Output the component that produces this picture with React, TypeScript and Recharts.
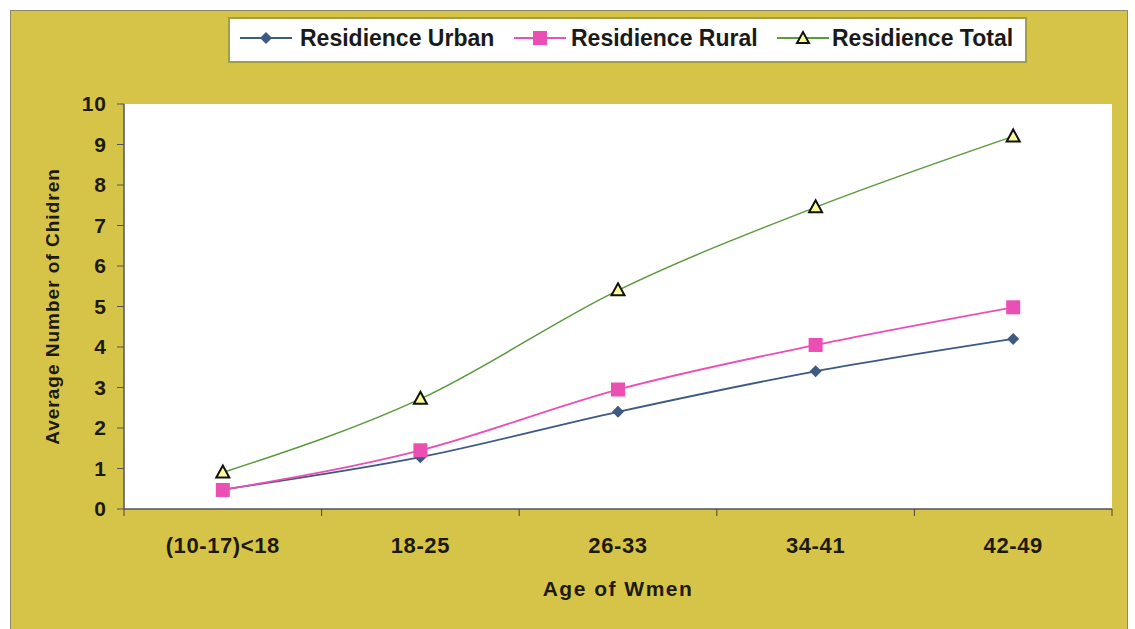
import React from 'react';
import { LineChart, Line, XAxis, YAxis, CartesianGrid, Label } from 'recharts';

const categories = ['(10-17)<18', '18-25', '26-33', '34-41', '42-49'];
const urban = [0.48, 1.28, 2.4, 3.4, 4.2];
const rural = [0.47, 1.45, 2.95, 4.05, 4.98];
const total = [0.9, 2.72, 5.4, 7.45, 9.2];
const yTicks = [0, 1, 2, 3, 4, 5, 6, 7, 8, 9, 10];

const data = categories.map((age, i) => ({
  age,
  urban: urban[i],
  rural: rural[i],
  total: total[i],
}));

const FONT = '"Liberation Sans", Arial, sans-serif';
const BG = '#d6c449';
const URBAN = '#3c5a82';
const RURAL = '#ec4fb4';
const TOTAL = '#5b9a3c';
const HALF_BAND = 98.8;

const Diamond = (props: any) => {
  const { cx, cy } = props;
  if (cx == null || cy == null) return null;
  const r = 6;
  return <path d={`M${cx},${cy - r}L${cx + r},${cy}L${cx},${cy + r}L${cx - r},${cy}Z`} fill={URBAN} />;
};

const Square = (props: any) => {
  const { cx, cy } = props;
  if (cx == null || cy == null) return null;
  return <rect x={cx - 7} y={cy - 7} width={14} height={14} fill={RURAL} />;
};

const Triangle = (props: any) => {
  const { cx, cy } = props;
  if (cx == null || cy == null) return null;
  return (
    <path
      d={`M${cx},${cy - 7}L${cx + 6.5},${cy + 5}L${cx - 6.5},${cy + 5}Z`}
      fill="#ffff99"
      stroke="#111"
      strokeWidth={2}
    />
  );
};

const XTick = (props: any) => {
  const { x, y, payload, index } = props;
  return (
    <g>
      <line x1={x - HALF_BAND} y1={y} x2={x - HALF_BAND} y2={y + 7} stroke="#444" />
      {index === categories.length - 1 && (
        <line x1={x + HALF_BAND} y1={y} x2={x + HALF_BAND} y2={y + 7} stroke="#444" />
      )}
      <text
        x={x}
        y={y + 36}
        textAnchor="middle"
        dominantBaseline="central"
        fontFamily={FONT}
        fontWeight="bold"
        fontSize={22}
        letterSpacing={0.6}
        fill="#1e1a0a"
      >
        {payload.value}
      </text>
    </g>
  );
};

const legendItems = [
  { name: 'Residience Urban', color: URBAN, mark: 'diamond', left: 10, gap: 8 },
  { name: 'Residience Rural', color: RURAL, mark: 'square', left: 284, gap: 5 },
  { name: 'Residience Total', color: TOTAL, mark: 'triangle', left: 547, gap: 3 },
];

const LegendMark = ({ color, mark }: { color: string; mark: string }) => (
  <svg width={52} height={20} style={{ display: 'block' }}>
    <line x1={0} y1={10} x2={52} y2={10} stroke={color} strokeWidth={2} />
    {mark === 'diamond' && <path d="M26,4L32,10L26,16L20,10Z" fill={color} />}
    {mark === 'square' && <rect x={19} y={3} width={14} height={14} fill={color} />}
    {mark === 'triangle' && <path d="M26,4L32,15L20,15Z" fill="#ffff99" stroke="#111" strokeWidth={2} />}
  </svg>
);

export default function App() {
  return (
    <div style={{ position: 'absolute', left: 0, top: 0, width: 1135, height: 629, background: '#fff', overflow: 'hidden' }}>
      <div
        style={{
          position: 'absolute',
          left: 10,
          top: 10,
          width: 1116,
          height: 640,
          background: BG,
          border: '1px solid #8d8a6c',
        }}
      />
      <div style={{ position: 'absolute', left: 0, top: 0 }}>
        <LineChart width={1135} height={629} data={data} margin={{ top: 104, right: 23, left: 24, bottom: 90 }}>
          <CartesianGrid fill="#ffffff" horizontal={false} vertical={false} />
          <XAxis
            dataKey="age"
            height={30}
            padding={{ left: HALF_BAND, right: HALF_BAND }}
            tick={<XTick />}
            tickLine={false}
            tickSize={0}
            tickMargin={0}
            interval={0}
            axisLine={{ stroke: '#555', strokeWidth: 1.5 }}
          >
            <Label
              value="Age of Wmen"
              position="bottom"
              offset={42}
              style={{ fontFamily: FONT, fontWeight: 'bold', fontSize: 21, letterSpacing: 1.5, fill: '#1e1a0a' }}
            />
          </XAxis>
          <YAxis
            width={100}
            domain={[0, 10]}
            ticks={yTicks}
            interval={0}
            tickSize={7}
            tickMargin={10}
            tickLine={{ stroke: '#555' }}
            axisLine={{ stroke: '#555', strokeWidth: 1.5 }}
            tick={{ fontFamily: FONT, fontWeight: 'bold', fontSize: 21, letterSpacing: 1, fill: '#1e1a0a' }}
          >
            <Label
              value="Average Number of Chidren"
              angle={-90}
              position="insideLeft"
              offset={28}
              style={{ textAnchor: 'middle', fontFamily: FONT, fontWeight: 'bold', fontSize: 19, letterSpacing: 1, fill: '#1e1a0a' }}
            />
          </YAxis>
          <Line type="monotone" dataKey="urban" stroke={URBAN} strokeWidth={1.8} dot={<Diamond />} isAnimationActive={false} />
          <Line type="monotone" dataKey="rural" stroke={RURAL} strokeWidth={1.8} dot={<Square />} isAnimationActive={false} />
          <Line type="monotone" dataKey="total" stroke={TOTAL} strokeWidth={1.5} dot={<Triangle />} isAnimationActive={false} />
        </LineChart>
      </div>
      <div
        style={{
          position: 'absolute',
          left: 228,
          top: 17,
          width: 795,
          height: 42,
          background: '#fff',
          border: '2px solid #a29e45',
          fontFamily: FONT,
          fontWeight: 'bold',
          fontSize: 23,
          color: '#1a1a1a',
        }}
      >
        {legendItems.map((item) => (
          <div
            key={item.name}
            style={{ position: 'absolute', left: item.left, top: -2, height: 42, display: 'flex', alignItems: 'center', whiteSpace: 'nowrap' }}
          >
            <LegendMark color={item.color} mark={item.mark} />
            <span style={{ marginLeft: item.gap }}>{item.name}</span>
          </div>
        ))}
      </div>
    </div>
  );
}
